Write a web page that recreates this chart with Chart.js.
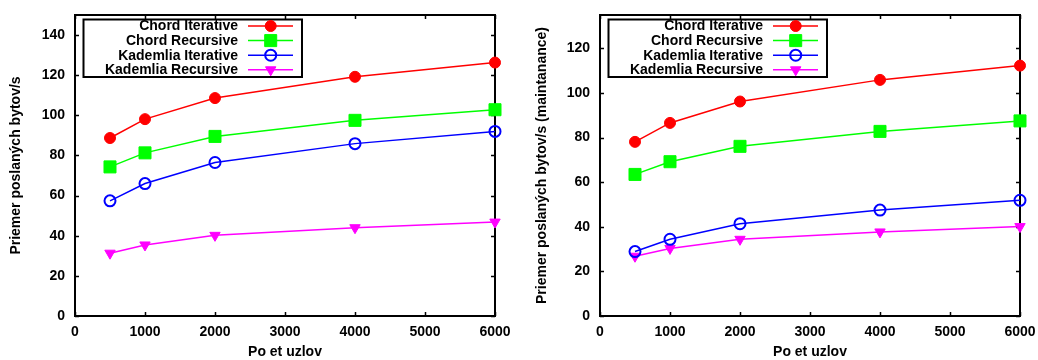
<!DOCTYPE html>
<html><head><meta charset="utf-8">
<script src="https://cdn.jsdelivr.net/npm/chart.js@4.4.1/dist/chart.umd.min.js"></script>
<style>
html,body{margin:0;padding:0;background:#fff;}
#wrap{position:relative;width:1038px;height:360px;overflow:hidden;}
.c{position:absolute;top:0;width:519px;height:360px;}
#c1{left:0}
#c2{left:519px}
</style></head><body>
<div id="wrap"><div class="c" id="c1"><canvas id="a"></canvas></div><div class="c" id="c2"><canvas id="b"></canvas></div></div>
<script>
// ---- data ----
const nodeCounts = [500, 1000, 2000, 4000, 6000];
const seriesNames = ['Chord Iterative', 'Chord Recursive', 'Kademlia Iterative', 'Kademlia Recursive'];

// left chart: Priemer poslaných bytov/s
const chordIterTotal   = [88.7, 98.1, 108.6, 119.2, 126.3];
const chordRecTotal    = [74.3, 81.3, 89.5, 97.5, 102.8];
const kadIterTotal     = [57.4, 66.0, 76.5, 85.9, 92.0];
const kadRecTotal      = [31.3, 35.4, 40.2, 44.0, 46.8];

// right chart: Priemer poslaných bytov/s (maintanance)
const chordIterMaint   = [78.1, 86.6, 96.2, 105.9, 112.3];
const chordRecMaint    = [63.5, 69.2, 76.1, 82.8, 87.5];
const kadIterMaint     = [28.9, 34.4, 41.4, 47.5, 51.9];
const kadRecMaint      = [26.8, 30.3, 34.4, 37.7, 40.1];

const xTicks = [0, 1000, 2000, 3000, 4000, 5000, 6000];
const xTitle = 'Po et uzlov';
const yTitleLeft = 'Priemer poslaných bytov/s';
const yTitleRight = 'Priemer poslaných bytov/s (maintanance)';

// ---- styling ----
const FONT = '"Liberation Sans", Arial, Helvetica, sans-serif';
const styles = [
  {color:'#ff0000', pointStyle:'circle', r:5.5, fill:true, bw:1, rot:0},
  {color:'#00ff00', pointStyle:'rect', r:8.5, fill:true, bw:1, rot:0},
  {color:'#0000ff', pointStyle:'circle', r:5.5, fill:false, bw:2, rot:0},
  {color:'#ff00ff', pointStyle:'triangle', r:6, fill:true, bw:1, rot:180}
];

function makeDatasets(arrs){
  return arrs.map((vals, i) => {
    const s = styles[i];
    return {
      label: seriesNames[i],
      data: nodeCounts.map((x, j) => ({x: x, y: vals[j]})),
      borderColor: s.color,
      backgroundColor: s.color,
      borderWidth: 1.5,
      pointStyle: s.pointStyle,
      pointRadius: s.r,
      pointHoverRadius: s.r,
      pointRotation: s.rot,
      pointBorderWidth: s.bw,
      pointBorderColor: s.color,
      pointBackgroundColor: s.fill ? s.color : 'rgba(0,0,0,0)',
      tension: 0,
      fill: false,
      clip: false
    };
  });
}

const framePlugin = {
  id: 'gpFrame',
  beforeDatasetsDraw(chart){
    const {ctx, chartArea: a, scales} = chart;
    ctx.save();
    ctx.strokeStyle = '#000';
    ctx.lineWidth = 1.5;
    const tl = 4;
    scales.y.ticks.forEach(t => {
      const y = Math.round(scales.y.getPixelForValue(t.value)) + 0.5;
      ctx.beginPath();
      ctx.moveTo(a.left, y); ctx.lineTo(a.left + tl, y);
      ctx.moveTo(a.right, y); ctx.lineTo(a.right - tl, y);
      ctx.stroke();
    });
    scales.x.ticks.forEach(t => {
      const x = Math.round(scales.x.getPixelForValue(t.value)) + 0.5;
      ctx.beginPath();
      ctx.moveTo(x, a.bottom); ctx.lineTo(x, a.bottom - tl);
      ctx.moveTo(x, a.top); ctx.lineTo(x, a.top + tl);
      ctx.stroke();
    });
    ctx.lineWidth = 2;
    ctx.strokeRect(a.left, a.top, a.right - a.left, a.bottom - a.top);
    ctx.restore();
  }
};

function drawMarker(ctx, ds, x, y){
  ctx.save();
  ctx.fillStyle = ds.pointBackgroundColor;
  ctx.strokeStyle = ds.pointBorderColor;
  ctx.lineWidth = ds.pointBorderWidth;
  if (Chart.helpers && Chart.helpers.drawPoint) {
    Chart.helpers.drawPoint(ctx, {pointStyle: ds.pointStyle, radius: ds.pointRadius, rotation: ds.pointRotation, borderWidth: ds.pointBorderWidth}, x, y);
  } else {
    ctx.beginPath();
    const r = ds.pointRadius;
    if (ds.pointStyle === 'circle') ctx.arc(x, y, r, 0, Math.PI*2);
    else if (ds.pointStyle === 'rect') { const s = r*Math.SQRT1_2; ctx.rect(x-s, y-s, 2*s, 2*s); }
    else { ctx.moveTo(x, y + r); ctx.lineTo(x - r*0.866, y - r/2); ctx.lineTo(x + r*0.866, y - r/2); ctx.closePath(); }
    ctx.fill(); ctx.stroke();
  }
  ctx.restore();
}

const legendPlugin = {
  id: 'gpLegend',
  afterDraw(chart){
    const {ctx, chartArea: a} = chart;
    ctx.save();
    ctx.strokeStyle = '#000';
    ctx.lineWidth = 2;
    ctx.strokeRect(a.left + 8.5, a.top + 4.5, 218.5, 57.5);
    ctx.font = 'bold 14px ' + FONT;
    ctx.textAlign = 'right';
    ctx.textBaseline = 'middle';
    ctx.fillStyle = '#000';
    chart.data.datasets.forEach((ds, i) => {
      const y = a.top + 11 + i * 14.6;
      ctx.fillText(ds.label, a.left + 163, y + 0.5);
      ctx.strokeStyle = ds.borderColor;
      ctx.lineWidth = ds.borderWidth;
      ctx.beginPath(); ctx.moveTo(a.left + 173, y); ctx.lineTo(a.left + 218, y); ctx.stroke();
      drawMarker(ctx, ds, a.left + 195.7, y);
    });
    ctx.restore();
  }
};

function makeChart(id, arrs, yMax, yTitle, yWidth, titlePad, rightPad){
  return new Chart(document.getElementById(id), {
    type: 'line',
    data: { datasets: makeDatasets(arrs) },
    options: {
      responsive: true,
      maintainAspectRatio: false,
      animation: false,
      events: [],
      layout: { padding: {top: 15, right: rightPad, left: 0, bottom: 0} },
      plugins: { legend: {display: false}, tooltip: {enabled: false} },
      scales: {
        x: {
          type: 'linear', min: 0, max: 6000,
          afterBuildTicks(scale){ scale.ticks = xTicks.map(v => ({value: v})); },
          afterFit(scale){ scale.height = 44; scale.paddingRight = 0; scale.paddingLeft = 0; },
          grid: {display: false, drawTicks: false},
          border: {display: false},
          ticks: {color: '#000', padding: 8, maxRotation: 0, autoSkip: false,
                  callback: v => String(v),
                  font: {family: FONT, size: 14, weight: 'bold'}},
          title: {display: true, text: xTitle, color: '#000', padding: {top: 0, bottom: -1},
                  font: {family: FONT, size: 14, weight: 'bold'}}
        },
        y: {
          type: 'linear', min: 0, max: yMax,
          afterBuildTicks(scale){ scale.ticks = scale.ticks.filter(t => t.value % 20 === 0); },
          afterFit(scale){ scale.width = yWidth; scale.paddingTop = 0; scale.paddingBottom = 0; },
          grid: {display: false, drawTicks: false},
          border: {display: false},
          ticks: {color: '#000', padding: 10, stepSize: 20,
                  callback: v => String(v),
                  font: {family: FONT, size: 14, weight: 'bold'}},
          title: {display: true, text: yTitle, color: '#000', padding: {top: titlePad, bottom: 0},
                  font: {family: FONT, size: 14, weight: 'bold'}}
        }
      }
    },
    plugins: [framePlugin, legendPlugin]
  });
}

makeChart('a', [chordIterTotal, chordRecTotal, kadIterTotal, kadRecTotal], 150, yTitleLeft, 75, 7.6, 24);
makeChart('b', [chordIterMaint, chordRecMaint, kadIterMaint, kadRecMaint], 135, yTitleRight, 81, 14.3, 18);
</script>
</body></html>
